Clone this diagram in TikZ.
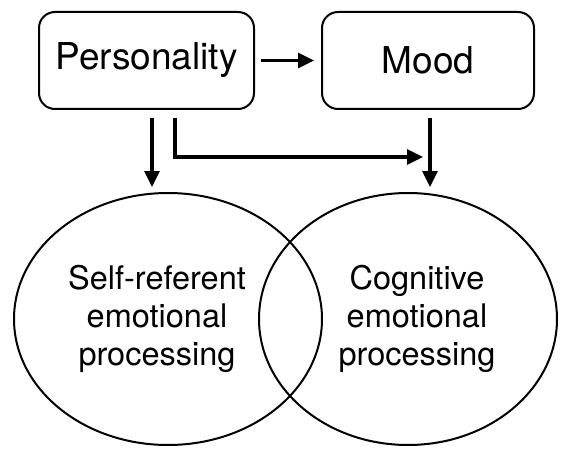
\documentclass[tikz,border=0pt]{standalone}
\usepackage{fontspec}
\setmainfont{TeX Gyre Heros}
\usetikzlibrary{arrows.meta,shapes.geometric}
\begin{document}
\begin{tikzpicture}[x=1pt,y=-1pt,
  box/.style={draw,line width=2pt,rounded corners=16pt,minimum width=215pt,minimum height=97pt,inner sep=0pt,font=\fontsize{37}{40}\selectfont},
  oval/.style={draw,ellipse,line width=2pt,inner sep=0pt},
  lbl/.style={align=center,font=\fontsize{32.5}{38}\selectfont,inner sep=0pt},
  arr/.style={line width=3.2pt,-{Triangle[length=16pt,width=15pt]}}]
\useasboundingbox (0,0) rectangle (563,452);
\node[box] (pers) at (146.5,60.5) {Personality};
\node[box,minimum width=212pt] (mood) at (428,60.5) {Mood};
\node[oval,minimum width=308pt,minimum height=252pt] (self) at (168,319) {};
\node[oval,minimum width=298pt,minimum height=252pt] (cog) at (408,319) {};
\node[lbl] (selft) at (157,319) {Self-referent\\emotional\\processing};
\node[lbl] (cogt) at (417,319) {Cognitive\\emotional\\processing};
\coordinate (p1) at ([xshift=5.5pt,yshift=-8pt]pers.south);
\coordinate (p2) at ([xshift=28.5pt,yshift=-8pt]pers.south);
\coordinate (m1) at ([xshift=2pt,yshift=-8pt]mood.south);
\coordinate (e) at (423,157);
\draw[arr,shorten <=6pt,shorten >=7pt] (pers.east) -- (mood.west);
\draw[arr,shorten >=5pt] (p1) -- (p1 |- self.north);
\draw[arr,shorten >=5pt] (m1) -- (m1 |- cog.north);
\draw[arr] (p2) |- (e);
\end{tikzpicture}
\end{document}
